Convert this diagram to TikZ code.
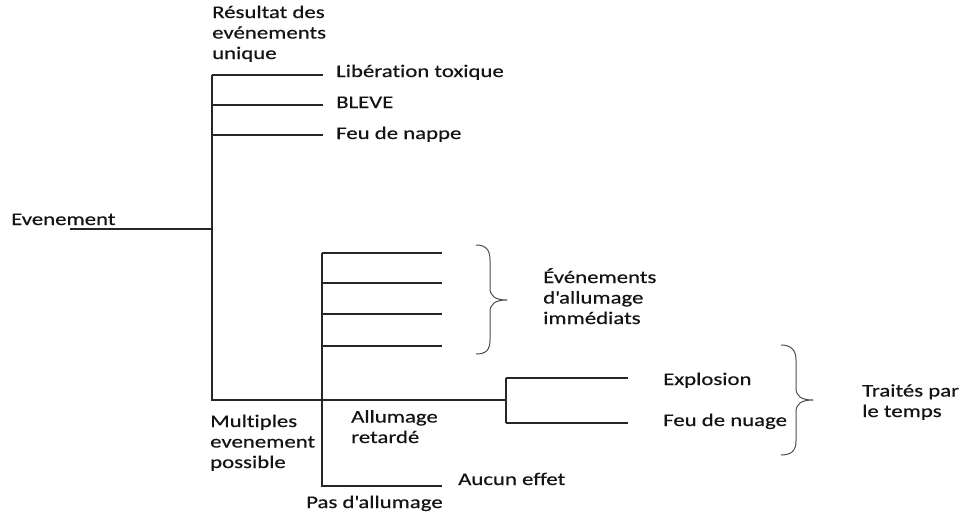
\documentclass[tikz,border=0pt]{standalone}
\usepackage{fontspec}
\setmainfont{Carlito}[FakeStretch=1.28,FakeBold=0.5,Ligatures=NoCommon]
\newcommand{\apos}{\textquotesingle}
\begin{document}
\begin{tikzpicture}[x=1pt,y=-1pt,
  lbl/.style={anchor=base west,inner sep=0pt,align=left,text=black!92,
    font=\fontsize{17.8}{20.5}\selectfont},
  tree/.style={line width=1.3pt,draw=black!85},
  bracepath/.style={line width=1pt,draw=black!70,line join=round}]
\useasboundingbox (0,0) rectangle (962,515);

% labels (multi-line labels are anchored at the baseline of their last line)
\node[lbl] (ev)   at (11,225)  {Evenement};
\node[lbl] (res)  at (212,59)  {Résultat des\\evénements\\unique};
\node[lbl] (lib)  at (336,77)  {Libération toxique};
\node[lbl] (bleve) at (336,108) {BLEVE};
\node[lbl] (feu)  at (336,139) {Feu de nappe};
\node[lbl] (imm)  at (543,324) {Événements\\d\apos allumage\\immédiats};
\node[lbl] (expl) at (663,385) {Explosion};
\node[lbl] (nuage) at (663,426) {Feu de nuage};
\node[lbl] (trait) at (862,417) {Traités par\\le temps};
\node[lbl] (ret)  at (351,443) {Allumage\\retardé};
\node[lbl] (multi) at (210,468) {Multiples\\evenement\\possible};
\node[lbl] (aucun) at (458,485) {Aucun effet};
\node[lbl] (pas)  at (306,508) {Pas d\apos allumage};

% junction points of the tree
\coordinate (e0) at (70,229);
\coordinate (m0) at (212,229);
\coordinate (mT) at (212,75);
\coordinate (m2) at (212,105);
\coordinate (m3) at (212,135);
\coordinate (mB) at (212,400);
\coordinate (t1) at (323,75);
\coordinate (t2) at (323,105);
\coordinate (t3) at (323,135);
\coordinate (sT) at (322,253);
\coordinate (s2) at (322,283);
\coordinate (s3) at (322,314);
\coordinate (s4) at (322,346);
\coordinate (sB) at (322,486);
\coordinate (i1) at (442,253);
\coordinate (i2) at (442,283);
\coordinate (i3) at (442,314);
\coordinate (i4) at (442,346);
\coordinate (iB) at (442,486);
\coordinate (rM) at (506,400);
\coordinate (rT) at (506,378);
\coordinate (rB) at (506,423);
\coordinate (x1) at (628,378);
\coordinate (x2) at (628,423);

% tree lines
\draw[tree] (e0) -- (m0);
\draw[tree] (mT) -- (mB) -- (rM);
\draw[tree] (mT) -- (t1);
\draw[tree] (m2) -- (t2);
\draw[tree] (m3) -- (t3);
\draw[tree] (sT) -- (sB) -- (iB);
\draw[tree] (sT) -- (i1);
\draw[tree] (s2) -- (i2);
\draw[tree] (s3) -- (i3);
\draw[tree] (s4) -- (i4);
\draw[tree] (rT) -- (rB);
\draw[tree] (rT) -- (x1);
\draw[tree] (rB) -- (x2);

% braces
\draw[bracepath] (476,245) .. controls (486,245) and (490,250) .. (490,260)
  -- (490,288) .. controls (490,296) and (495,300) .. (507,300)
  .. controls (495,300) and (490,304) .. (490,312)
  -- (490,340) .. controls (490,350) and (486,354) .. (476,354);
\draw[bracepath] (781,345) .. controls (791,345) and (796,350) .. (796,360)
  -- (796,388) .. controls (796,396) and (801,400) .. (813,400)
  .. controls (801,400) and (796,404) .. (796,412)
  -- (796,441) .. controls (796,451) and (791,455) .. (781,455);
\end{tikzpicture}
\end{document}
